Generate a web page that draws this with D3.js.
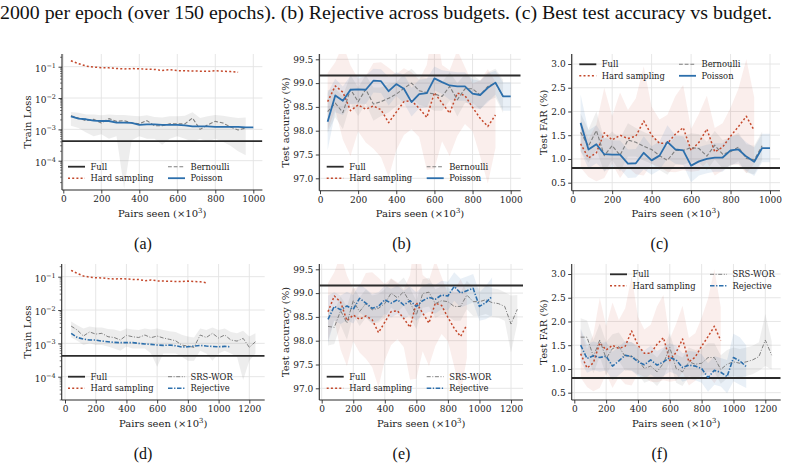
<!DOCTYPE html>
<html>
<head>
<meta charset="utf-8">
<script src="https://cdn.jsdelivr.net/npm/d3@7"></script>
<style>
body { margin: 0; background: #fff; }
svg { display: block; }
</style>
</head>
<body>
<script>
// x positions (pairs seen, x10^3)
var xHard = [40,80,120,160,200,240,280,320,360,400,440,480,520,560,600,640,680,720,760,800,840,880,920];
var xPoisson = [40,80,120,160,200,240,280,320,360,400,440,480,520,560,600,640,680,720,760,800,840,880,920,960,1000];
var xBern = [40,80,120,160,200,240,280,320,360,400,440,480,520,560,600,640,680,720,760,800,840,880,920,960];
var xSrs = [40,80,120,160,200,240,280,320,360,400,440,480,520,560,600,640,680,720,760,800,840,880,920,960,1000,1040,1080,1120,1160,1200,1240];
var xRej = [40,80,120,160,200,240,280,320,360,400,440,480,520,560,600,640,680,720,760,800,840,880,920,960,1000,1040,1080];

// full-data reference values
var fullLoss = 4.2e-4;
var fullAcc = 99.16;
var fullFar = 0.81;

// train loss
var hardLoss = [0.155,0.125,0.105,0.097,0.093,0.092,0.088,0.085,0.087,0.086,0.083,0.082,0.076,0.080,0.075,0.074,0.073,0.072,0.071,0.074,0.072,0.070,0.066];
var poissonLoss = [2.6e-3,2.2e-3,2.1e-3,1.9e-3,1.85e-3,1.85e-3,1.65e-3,1.65e-3,1.6e-3,1.4e-3,1.45e-3,1.45e-3,1.4e-3,1.4e-3,1.4e-3,1.35e-3,1.25e-3,1.25e-3,1.25e-3,1.2e-3,1.2e-3,1.2e-3,1.2e-3,1.15e-3,1.15e-3];
var bernLoss = [2.7e-3,2.3e-3,1.9e-3,2.1e-3,1.6e-3,2.2e-3,1.8e-3,1.9e-3,1.6e-3,1.5e-3,1.9e-3,1.3e-3,1.3e-3,1.5e-3,1.5e-3,1.5e-3,2.3e-3,1.0e-3,1.4e-3,1.8e-3,1.6e-3,1.2e-3,0.95e-3,1.1e-3];
var bernLossLo = [1.3e-3,1.1e-3,8e-4,6e-4,7e-4,5e-4,6e-4,1.3e-5,4.5e-4,6e-4,5e-4,5e-4,3.2e-4,5e-4,6e-4,5e-4,4e-4,5e-4,4e-4,5e-4,4e-4,3e-4,2e-4,1.5e-4];
var bernLossHi = [3.6e-3,3.4e-3,3.0e-3,3.0e-3,2.8e-3,3.0e-3,2.9e-3,2.9e-3,2.7e-3,2.6e-3,2.8e-3,2.5e-3,2.4e-3,2.6e-3,2.6e-3,2.7e-3,3.5e-3,2.3e-3,2.6e-3,2.9e-3,2.7e-3,2.5e-3,2.3e-3,2.4e-3];
var srsLoss = [3.3e-3,2.5e-3,1.66e-3,2.2e-3,1.9e-3,2.0e-3,1.58e-3,1.5e-3,1.26e-3,1.74e-3,1.58e-3,1.5e-3,1.78e-3,1.48e-3,1.66e-3,1.45e-3,1.32e-3,1.2e-3,0.89e-3,0.83e-3,0.76e-3,1.78e-3,1.5e-3,2.0e-3,1.45e-3,1.78e-3,1.26e-3,1.17e-3,1.41e-3,0.76e-3,1.12e-3];
var srsLossLo = [1.5e-3,1.2e-3,9e-4,1.0e-3,9e-4,9e-4,8e-4,7e-4,6e-4,8e-4,7e-4,7e-4,7e-4,5e-4,2e-4,5e-4,5e-4,5e-4,4e-4,3e-4,3e-4,6e-4,5e-4,3e-4,5e-4,6e-4,5e-4,4e-4,8e-5,3e-4,5e-4];
var srsLossHi = [4.5e-3,3.5e-3,2.8e-3,3.2e-3,3.0e-3,3.0e-3,2.7e-3,2.6e-3,2.3e-3,2.8e-3,2.6e-3,2.5e-3,2.8e-3,2.6e-3,2.8e-3,2.5e-3,2.3e-3,2.2e-3,1.8e-3,1.6e-3,1.5e-3,2.8e-3,2.5e-3,3.0e-3,2.5e-3,2.8e-3,2.2e-3,2.0e-3,2.4e-3,1.6e-3,2.0e-3];
var rejLoss = [2.0e-3,1.5e-3,1.35e-3,1.26e-3,1.26e-3,1.17e-3,1.12e-3,1.07e-3,1.05e-3,1.05e-3,1.05e-3,1.0e-3,0.96e-3,0.93e-3,0.89e-3,0.87e-3,0.89e-3,0.85e-3,0.78e-3,0.79e-3,0.83e-3,0.87e-3,0.83e-3,0.81e-3,0.79e-3,0.81e-3,0.79e-3];

// test accuracy (%) and std
var hardAcc = [98.61,98.94,98.81,98.42,98.54,98.45,98.52,98.44,98.17,98.39,98.61,98.63,98.47,98.28,98.80,98.58,98.37,98.79,98.74,98.49,98.26,98.09,98.33];
var hardAccSd = [0.6,0.5,1.0,0.95,0.55,0.7,0.9,1.0,1.15,0.8,0.7,0.6,0.6,1.1,1.6,0.8,0.9,0.9,0.6,0.5,0.8,1.2,0.7];
var poissonAcc = [98.19,98.74,98.63,98.86,98.87,98.86,99.05,99.04,98.83,98.98,98.88,98.60,98.77,98.79,99.10,99.02,98.95,98.93,98.93,98.78,98.75,98.90,99.01,98.72,98.72];
var poissonAccSd = [0.6,0.35,0.3,0.3,0.3,0.3,0.25,0.25,0.3,0.25,0.3,0.3,0.3,0.3,0.25,0.25,0.3,0.3,0.3,0.3,0.3,0.3,0.25,0.3,0.3];
var bernAcc = [98.40,98.58,98.38,98.87,98.61,98.87,98.56,98.61,98.68,98.77,98.89,99.00,98.84,98.80,98.77,98.72,98.93,98.65,98.88,98.88,98.75,98.93,99.00,98.72];
var bernAccSd = [0.45,0.3,0.35,0.3,0.3,0.3,0.35,0.3,0.3,0.25,0.3,0.3,0.3,0.3,0.35,0.3,0.3,0.35,0.3,0.3,0.3,0.3,0.3,0.35];
var srsAcc = [98.30,98.28,98.63,98.37,98.84,98.61,98.78,98.65,98.68,98.78,99.00,98.90,99.03,98.80,98.54,98.99,99.02,98.78,98.84,98.82,98.72,98.72,98.96,98.82,98.82,98.86,98.80,98.78,98.72,98.35,98.66];
var srsAccSd = [0.4,0.35,0.3,0.35,0.3,0.3,0.3,0.3,0.3,0.3,0.3,0.3,0.3,0.3,0.3,0.3,0.3,0.3,0.3,0.3,0.3,0.3,0.3,0.3,0.3,0.3,0.3,0.3,0.3,0.6,0.3];
var rejAcc = [98.45,98.72,98.65,98.73,98.66,98.89,98.79,98.68,98.72,98.86,98.79,98.86,98.75,98.84,98.72,98.84,98.91,98.87,98.96,98.94,99.14,99.00,99.05,99.10,98.72,98.80,98.93];
var rejAccSd = [0.5,0.3,0.3,0.3,0.3,0.3,0.3,0.3,0.3,0.3,0.3,0.3,0.3,0.3,0.3,0.3,0.3,0.3,0.3,0.3,0.3,0.3,0.3,0.3,0.3,0.35,0.4];

// test FAR (%) and std
var hardFar = [1.32,1.02,1.13,1.55,1.40,1.50,1.43,1.48,1.80,1.50,1.33,1.33,1.52,1.66,1.18,1.35,1.63,1.15,1.25,1.48,1.68,1.90,1.60];
var hardFarSd = [0.5,0.4,0.6,0.95,0.5,0.9,0.6,0.8,1.15,0.6,0.5,0.6,0.8,0.9,0.45,0.6,0.7,0.5,0.5,0.6,0.8,1.2,0.7];
var poissonFar = [1.76,1.20,1.31,1.10,1.09,1.09,0.90,0.91,1.13,0.97,1.07,1.36,1.20,1.18,0.86,0.95,1.00,1.03,1.03,1.18,1.20,1.05,0.94,1.23,1.23];
var poissonFarSd = [0.6,0.4,0.4,0.35,0.3,0.3,0.3,0.3,0.35,0.3,0.3,0.35,0.3,0.3,0.35,0.3,0.3,0.3,0.3,0.3,0.3,0.3,0.3,0.3,0.3];
var bernFar = [1.56,1.27,1.60,1.07,1.28,1.08,1.40,1.35,1.27,1.20,1.07,0.97,1.18,1.18,1.24,1.22,1.06,1.29,1.10,1.15,1.25,1.01,0.98,1.28];
var bernFarSd = [0.4,0.35,0.4,0.35,0.3,0.35,0.35,0.3,0.3,0.3,0.3,0.3,0.3,0.3,0.3,0.3,0.3,0.3,0.3,0.3,0.3,0.3,0.3,0.3];
var srsFar = [1.67,1.67,1.26,1.61,1.22,1.43,1.47,1.26,1.27,1.19,1.01,1.06,0.94,1.12,1.45,1.01,0.94,1.15,1.10,1.12,1.24,1.24,0.99,1.10,1.15,1.12,1.15,1.19,1.26,1.61,1.29];
var srsFarSd = [0.4,0.35,0.35,0.35,0.35,0.3,0.3,0.3,0.3,0.3,0.3,0.3,0.3,0.3,0.3,0.3,0.3,0.3,0.3,0.3,0.3,0.3,0.3,0.3,0.3,0.3,0.3,0.3,0.3,0.55,0.3];
var rejFar = [1.50,1.22,1.28,1.24,1.27,1.06,1.17,1.29,1.26,1.15,1.09,1.19,1.08,1.15,1.24,1.19,1.03,1.08,1.06,1.01,0.82,0.97,0.93,0.84,1.24,1.17,1.05];
var rejFarSd = [0.35,0.3,0.3,0.3,0.3,0.3,0.3,0.3,0.3,0.3,0.3,0.3,0.3,0.3,0.3,0.3,0.3,0.3,0.3,0.3,0.3,0.3,0.3,0.35,0.5,0.5,0.45];

var xTicksA = [0,200,400,600,800,1000];
var xTicksB = [0,200,400,600,800,1000,1200];
var lossTicks = [1e-4,1e-3,1e-2,1e-1];
var accTicks = [97.0,97.5,98.0,98.5,99.0,99.5];
var farTicks = [0.5,1.0,1.5,2.0,2.5,3.0];

var width = 788;
var height = 469;
var serif = "'DejaVu Serif', serif";
var times = "'Liberation Serif', 'Times New Roman', serif";

var red = "#c4482b", blue = "#2c6fac", grey = "#7f7f7f", dark = "#2b2b2b";

var styles = {
    full: { color: dark, width: 1.8, dash: null, label: "Full" },
    hard: { color: red, width: 1.5, dash: "2,2.2", label: "Hard sampling" },
    bern: { color: grey, width: 1.1, dash: "3.8,1.9", label: "Bernoulli" },
    poisson: { color: blue, width: 1.8, dash: null, label: "Poisson" },
    srs: { color: grey, width: 1.0, dash: "4,1.6,1,1.6", label: "SRS-WOR" },
    rej: { color: blue, width: 1.6, dash: "4.5,1.6,1.3,1.6", label: "Rejective" }
};

var svg = d3.select("body").append("svg")
    .attr("width", width)
    .attr("height", height);

// caption line of the previous figure
svg.append("text")
    .attr("x", 0).attr("y", 19)
    .attr("font-family", times).attr("font-size", 18)
    .attr("textLength", 772).attr("lengthAdjust", "spacingAndGlyphs")
    .attr("fill", "#111")
    .text("2000 per epoch (over 150 epochs). (b) Rejective across budgets. (c) Best test accuracy vs budget.");

function sdBand(m, s) {
    return { lo: m.map((v, i) => v - s[i]), hi: m.map((v, i) => v + s[i]) };
}

var panels = [
    { id: "a", left: 62, right: 262.4, top: 54, bottom: 190, xAnchor: [0, 1000], xPx: [63.3, 253.3],
      log: true, yAnchor: [1e-1, 1e-4], yPx: [66.7, 160.7], xTicks: xTicksA, yTicks: lossTicks,
      ylabel: "Train Loss", ylabelX: 27, caption: "(a)", capX: 143,
      legend: { x1: 68, x2: 168, y: 166.7, items: [["full", "hard"], ["bern", "poisson"]] },
      full: fullLoss,
      series: [
          { key: "hard", x: xHard, y: hardLoss },
          { key: "bern", x: xBern, y: bernLoss, lo: bernLossLo, hi: bernLossHi, band: grey, op: 0.14 },
          { key: "poisson", x: xPoisson, y: poissonLoss }
      ] },
    { id: "b", left: 319.3, right: 520.7, top: 54, bottom: 190.7, xAnchor: [0, 1000], xPx: [320, 510.7],
      log: false, yAnchor: [99.5, 97.0], yPx: [59.3, 178.3], xTicks: xTicksA, yTicks: accTicks,
      ylabel: "Test accuracy (%)", ylabelX: 285, caption: "(b)", capX: 401.5,
      legend: { x1: 326.7, x2: 426.7, y: 166.7, items: [["full", "hard"], ["bern", "poisson"]] },
      full: fullAcc,
      series: [
          { key: "hard", x: xHard, y: hardAcc, sd: hardAccSd, band: red, op: 0.09 },
          { key: "bern", x: xBern, y: bernAcc, sd: bernAccSd, band: grey, op: 0.12 },
          { key: "poisson", x: xPoisson, y: poissonAcc, sd: poissonAccSd, band: blue, op: 0.1 }
      ] },
    { id: "c", left: 571.7, right: 780, top: 54, bottom: 190.7, xAnchor: [0, 1000], xPx: [572.7, 770],
      log: false, yAnchor: [3.0, 0.5], yPx: [64, 182.7], xTicks: xTicksA, yTicks: farTicks,
      ylabel: "Test FAR (%)", ylabelX: 543, caption: "(c)", capX: 659.5,
      legend: { x1: 579.3, x2: 679, y: 64.3, items: [["full", "hard"], ["bern", "poisson"]] },
      full: fullFar,
      series: [
          { key: "hard", x: xHard, y: hardFar, sd: hardFarSd, band: red, op: 0.09 },
          { key: "bern", x: xBern, y: bernFar, sd: bernFarSd, band: grey, op: 0.12 },
          { key: "poisson", x: xPoisson, y: poissonFar, sd: poissonFarSd, band: blue, op: 0.1 }
      ] },
    { id: "d", left: 61.7, right: 264.7, top: 264, bottom: 400, xAnchor: [0, 1200], xPx: [65, 249.3],
      log: true, yAnchor: [1e-1, 1e-4], yPx: [276.7, 376.7], xTicks: xTicksB, yTicks: lossTicks,
      ylabel: "Train Loss", ylabelX: 27, caption: "(d)", capX: 143,
      legend: { x1: 68, x2: 168, y: 376.7, items: [["full", "hard"], ["srs", "rej"]] },
      full: fullLoss,
      series: [
          { key: "hard", x: xHard, y: hardLoss },
          { key: "srs", x: xSrs, y: srsLoss, lo: srsLossLo, hi: srsLossHi, band: grey, op: 0.14 },
          { key: "rej", x: xRej, y: rejLoss }
      ] },
    { id: "e", left: 319.3, right: 523, top: 264, bottom: 400, xAnchor: [0, 1200], xPx: [321.7, 511],
      log: false, yAnchor: [99.5, 97.0], yPx: [269.3, 388.3], xTicks: xTicksB, yTicks: accTicks,
      ylabel: "Test accuracy (%)", ylabelX: 285, caption: "(e)", capX: 401.5,
      legend: { x1: 326.7, x2: 426.7, y: 376.7, items: [["full", "hard"], ["srs", "rej"]] },
      full: fullAcc,
      series: [
          { key: "hard", x: xHard, y: hardAcc, sd: hardAccSd, band: red, op: 0.09 },
          { key: "srs", x: xSrs, y: srsAcc, sd: srsAccSd, band: grey, op: 0.12 },
          { key: "rej", x: xRej, y: rejAcc, sd: rejAccSd, band: blue, op: 0.1 }
      ] },
    { id: "f", left: 571.7, right: 780.7, top: 264, bottom: 400, xAnchor: [0, 1200], xPx: [574.3, 765.3],
      log: false, yAnchor: [3.0, 0.5], yPx: [274, 392.7], xTicks: xTicksB, yTicks: farTicks,
      ylabel: "Test FAR (%)", ylabelX: 543, caption: "(f)", capX: 659.5,
      legend: { x1: 610, x2: 710, y: 274.3, items: [["full", "hard"], ["srs", "rej"]] },
      full: fullFar,
      series: [
          { key: "hard", x: xHard, y: hardFar, sd: hardFarSd, band: red, op: 0.09 },
          { key: "srs", x: xSrs, y: srsFar, sd: srsFarSd, band: grey, op: 0.12 },
          { key: "rej", x: xRej, y: rejFar, sd: rejFarSd, band: blue, op: 0.1 }
      ] }
];

var defs = svg.append("defs");

function drawPanel(p) {
    var g = svg.append("g");
    var x = d3.scaleLinear().domain(p.xAnchor).range(p.xPx);
    var y = (p.log ? d3.scaleLog() : d3.scaleLinear()).domain(p.yAnchor).range(p.yPx);

    defs.append("clipPath").attr("id", "clip-" + p.id)
        .append("rect")
        .attr("x", p.left).attr("y", p.top)
        .attr("width", p.right - p.left).attr("height", p.bottom - p.top);

    // grid
    var grid = g.append("g").attr("stroke", "#e3e3e3").attr("stroke-width", 0.9);
    grid.selectAll(".gx").data(p.xTicks).enter().append("line")
        .attr("x1", d => x(d)).attr("x2", d => x(d))
        .attr("y1", p.top).attr("y2", p.bottom);
    grid.selectAll(".gy").data(p.yTicks).enter().append("line")
        .attr("x1", p.left).attr("x2", p.right)
        .attr("y1", d => y(d)).attr("y2", d => y(d));

    var plot = g.append("g").attr("clip-path", "url(#clip-" + p.id + ")");

    // bands
    p.series.forEach(function(s) {
        if (!s.band) return;
        var b = s.sd ? sdBand(s.y, s.sd) : { lo: s.lo, hi: s.hi };
        var pts = s.x.map((v, i) => ({ x: v, lo: b.lo[i], hi: b.hi[i] }));
        var area = d3.area()
            .x(d => x(d.x))
            .y0(d => p.log ? (d.lo > 0 ? y(d.lo) : p.bottom + 5) : y(d.lo))
            .y1(d => y(d.hi));
        plot.append("path").datum(pts)
            .attr("d", area)
            .attr("fill", s.band).attr("fill-opacity", s.op);
    });

    // full reference
    plot.append("line")
        .attr("x1", p.left).attr("x2", p.right)
        .attr("y1", y(p.full)).attr("y2", y(p.full))
        .attr("stroke", styles.full.color).attr("stroke-width", styles.full.width);

    // lines
    p.series.forEach(function(s) {
        var st = styles[s.key];
        var line = d3.line().x(d => x(d[0])).y(d => y(d[1]));
        plot.append("path").datum(s.x.map((v, i) => [v, s.y[i]]))
            .attr("d", line)
            .attr("fill", "none")
            .attr("stroke", st.color).attr("stroke-width", st.width)
            .attr("stroke-dasharray", st.dash)
            .attr("stroke-linejoin", "round");
    });

    // x axis
    var xAxis = d3.axisBottom(x).tickValues(p.xTicks).tickFormat(d3.format("d"))
        .tickSize(3.5).tickPadding(2.5).tickSizeOuter(0);
    var gx = g.append("g").attr("transform", "translate(0," + p.bottom + ")").call(xAxis);
    gx.select(".domain").remove();
    gx.attr("font-family", serif).attr("font-size", 9);
    gx.selectAll("line").attr("stroke", dark).attr("stroke-width", 0.9);
    gx.selectAll("text").attr("fill", "#222");

    // y axis
    var yAxis = d3.axisLeft(y).tickValues(p.yTicks).tickSize(3.5).tickPadding(2.5).tickSizeOuter(0);
    if (p.log) yAxis.tickFormat(() => "");
    else yAxis.tickFormat(d3.format(".1f"));
    var gy = g.append("g").attr("transform", "translate(" + p.left + ",0)").call(yAxis);
    gy.select(".domain").remove();
    gy.attr("font-family", serif).attr("font-size", 9);
    gy.selectAll("line").attr("stroke", dark).attr("stroke-width", 0.9);
    gy.selectAll("text").attr("fill", "#222");
    if (p.log) {
        gy.selectAll(".tick text").each(function(d) {
            var t = d3.select(this).attr("dy", "0.55em");
            t.append("tspan").text("10");
            t.append("tspan").attr("dy", -4.5).attr("font-size", 6.5)
                .text("\u2212" + Math.round(-Math.log10(d)));
        });
        // minor ticks
        var lowV = y.invert(p.bottom), highV = y.invert(p.top);
        var minor = d3.scaleLog().domain([lowV, highV]).ticks()
            .filter(v => lossTicks.indexOf(v) < 0 && v >= lowV && v <= highV);
        g.append("g").selectAll("line").data(minor).enter().append("line")
            .attr("x1", p.left - 2).attr("x2", p.left)
            .attr("y1", d => y(d)).attr("y2", d => y(d))
            .attr("stroke", dark).attr("stroke-width", 0.6);
    }

    // spines
    g.append("line").attr("x1", p.left).attr("x2", p.left).attr("y1", p.top).attr("y2", p.bottom)
        .attr("stroke", dark).attr("stroke-width", 1.1);
    g.append("line").attr("x1", p.left).attr("x2", p.right).attr("y1", p.bottom).attr("y2", p.bottom)
        .attr("stroke", dark).attr("stroke-width", 1.1);

    // axis labels
    var xl = g.append("text")
        .attr("x", (p.left + p.right) / 2).attr("y", p.bottom + 26.5)
        .attr("text-anchor", "middle")
        .attr("font-family", serif).attr("font-size", 10).attr("fill", "#222");
    xl.append("tspan").text("Pairs seen (\u00d710");
    xl.append("tspan").attr("dy", -4).attr("font-size", 7).text("3");
    xl.append("tspan").attr("dy", 4).text(")");

    g.append("text")
        .attr("transform", "translate(" + p.ylabelX + "," + (p.top + p.bottom) / 2 + ") rotate(-90)")
        .attr("text-anchor", "middle").attr("dy", "0.35em")
        .attr("font-family", serif).attr("font-size", 10).attr("fill", "#222")
        .text(p.ylabel);

    // legend
    var lg = g.append("g").attr("font-family", serif).attr("font-size", 8.4).attr("fill", "#222");
    p.legend.items.forEach(function(col, ci) {
        var lx = ci === 0 ? p.legend.x1 : p.legend.x2;
        col.forEach(function(key, ri) {
            var st = styles[key];
            var ly = p.legend.y + ri * 11.5;
            lg.append("line")
                .attr("x1", lx).attr("x2", lx + 17)
                .attr("y1", ly).attr("y2", ly)
                .attr("stroke", st.color).attr("stroke-width", st.width)
                .attr("stroke-dasharray", st.dash);
            lg.append("text").attr("x", lx + 22.5).attr("y", ly).attr("dy", "0.35em").text(st.label);
        });
    });

    // sub caption
    svg.append("text")
        .attr("x", p.capX).attr("y", p.top + 195)
        .attr("text-anchor", "middle")
        .attr("font-family", times).attr("font-size", 16).attr("fill", "#111")
        .text(p.caption);
}

panels.forEach(drawPanel);
</script>
</body>
</html>
